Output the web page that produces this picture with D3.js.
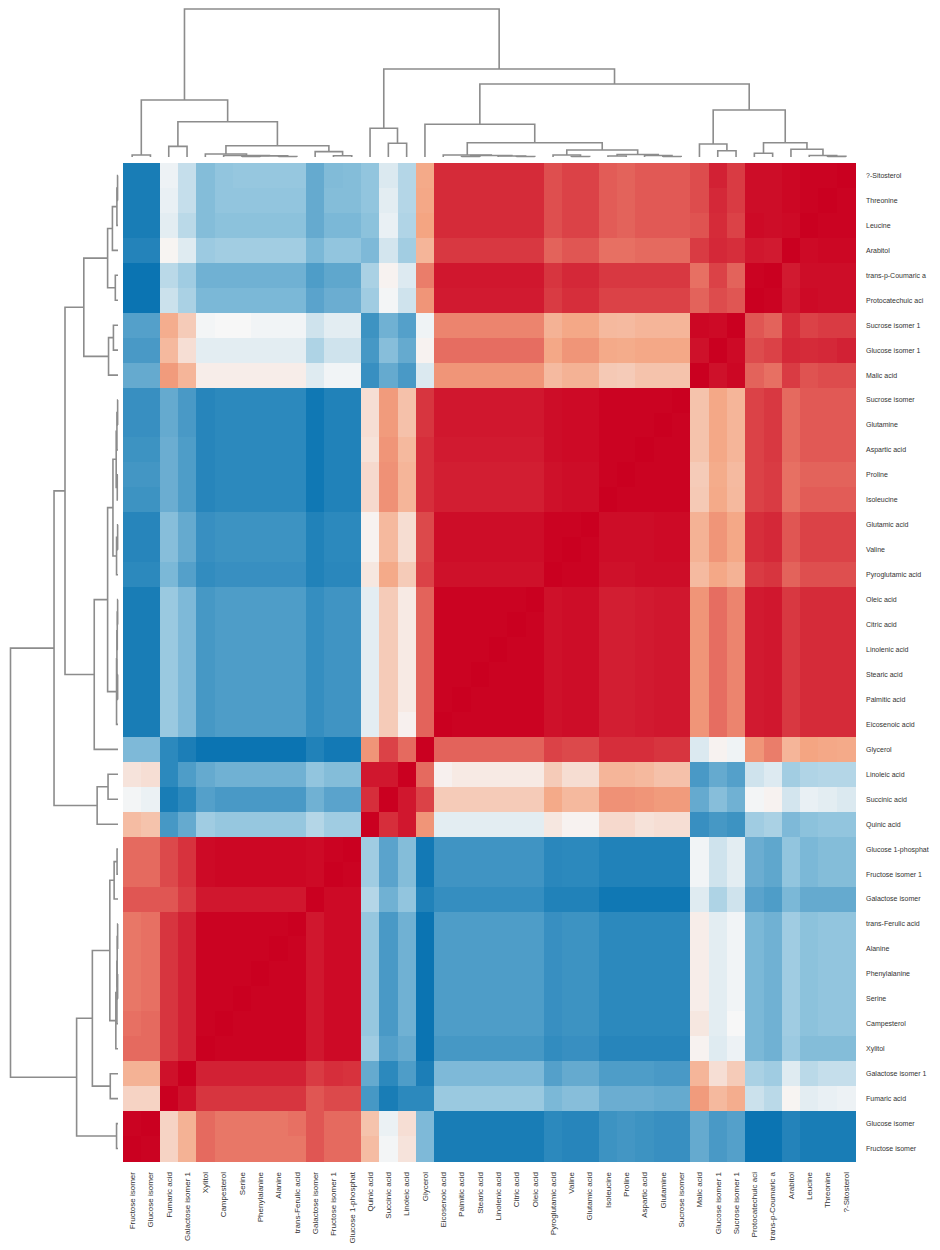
<!DOCTYPE html>
<html>
<head>
<meta charset="utf-8">
<script src="https://cdn.jsdelivr.net/npm/d3@7"></script>
<style>
  body { margin: 0; background: #fff; }
  text { font-family: "Liberation Sans", Arial, sans-serif; fill: #333; }
</style>
</head>
<body>
<svg id="chart" width="940" height="1250"></svg>
<script>
// Row labels (top to bottom)
const rowLabels = ["?-Sitosterol","Threonine","Leucine","Arabitol","trans-p-Coumaric a","Protocatechuic aci",
  "Sucrose isomer 1","Glucose isomer 1","Malic acid","Sucrose isomer","Glutamine","Aspartic acid","Proline",
  "Isoleucine","Glutamic acid","Valine","Pyroglutamic acid","Oleic acid","Citric acid","Linolenic acid",
  "Stearic acid","Palmitic acid","Eicosenoic acid","Glycerol","Linoleic acid","Succinic acid","Quinic acid",
  "Glucose 1-phosphat","Fructose isomer 1","Galactose isomer","trans-Ferulic acid","Alanine","Phenylalanine",
  "Serine","Campesterol","Xylitol","Galactose isomer 1","Fumaric acid","Glucose isomer","Fructose isomer"];

// Column labels (left to right)
const colLabels = ["Fructose isomer","Glucose isomer","Fumaric acid","Galactose isomer 1","Xylitol","Campesterol",
  "Serine","Phenylalanine","Alanine","trans-Ferulic acid","Galactose isomer","Fructose isomer 1","Glucose 1-phosphat",
  "Quinic acid","Succinic acid","Linoleic acid","Glycerol","Eicosenoic acid","Palmitic acid","Stearic acid",
  "Linolenic acid","Citric acid","Oleic acid","Pyroglutamic acid","Valine","Glutamic acid","Isoleucine","Proline",
  "Aspartic acid","Glutamine","Sucrose isomer","Malic acid","Glucose isomer 1","Sucrose isomer 1",
  "Protocatechuic aci","trans-p-Coumaric a","Arabitol","Leucine","Threonine","?-Sitosterol"];

// Correlation values, one row per row label, in column label order
const corr = [
[-0.93,-0.93,-0.05,-0.25,-0.55,-0.5,-0.48,-0.48,-0.48,-0.48,-0.66,-0.56,-0.55,-0.5,-0.14,-0.33,0.47,0.87,0.87,0.87,0.87,0.87,0.87,0.76,0.8,0.8,0.72,0.7,0.73,0.73,0.73,0.77,0.9,0.82,0.96,0.96,0.98,0.99,0.99,1],
[-0.93,-0.93,-0.07,-0.25,-0.55,-0.5,-0.5,-0.5,-0.5,-0.5,-0.66,-0.55,-0.55,-0.5,-0.1,-0.33,0.48,0.87,0.87,0.87,0.87,0.87,0.87,0.76,0.8,0.8,0.72,0.7,0.73,0.73,0.73,0.77,0.88,0.82,0.96,0.96,0.98,0.99,1,0.99],
[-0.93,-0.93,-0.1,-0.3,-0.55,-0.52,-0.52,-0.52,-0.52,-0.52,-0.66,-0.58,-0.58,-0.52,-0.07,-0.35,0.5,0.87,0.87,0.87,0.87,0.87,0.87,0.76,0.8,0.8,0.72,0.7,0.73,0.73,0.73,0.75,0.87,0.8,0.97,0.96,0.97,1,0.99,0.99],
[-0.89,-0.89,0.02,-0.12,-0.45,-0.42,-0.42,-0.42,-0.42,-0.42,-0.58,-0.5,-0.5,-0.57,-0.18,-0.42,0.4,0.83,0.83,0.83,0.83,0.83,0.83,0.7,0.74,0.74,0.66,0.66,0.68,0.68,0.68,0.82,0.88,0.86,0.93,0.92,1,0.97,0.98,0.98],
[-0.98,-0.98,-0.3,-0.43,-0.62,-0.62,-0.62,-0.62,-0.62,-0.62,-0.74,-0.68,-0.68,-0.38,0.03,-0.13,0.62,0.93,0.93,0.93,0.93,0.93,0.93,0.84,0.88,0.88,0.83,0.83,0.83,0.83,0.83,0.66,0.8,0.7,0.99,1,0.92,0.96,0.96,0.96],
[-0.98,-0.98,-0.22,-0.38,-0.58,-0.58,-0.58,-0.58,-0.58,-0.58,-0.7,-0.64,-0.64,-0.43,-0.02,-0.2,0.55,0.92,0.92,0.92,0.92,0.92,0.92,0.82,0.86,0.86,0.8,0.8,0.8,0.8,0.8,0.7,0.77,0.74,1,0.99,0.93,0.97,0.96,0.96],
[-0.72,-0.72,0.45,0.27,-0.02,0,0,-0.03,-0.03,-0.03,-0.2,-0.1,-0.1,-0.8,-0.62,-0.72,-0.04,0.6,0.6,0.6,0.6,0.6,0.6,0.42,0.48,0.48,0.38,0.37,0.4,0.4,0.4,0.98,0.97,1,0.74,0.7,0.86,0.8,0.82,0.82],
[-0.76,-0.76,0.38,0.15,-0.1,-0.1,-0.1,-0.1,-0.1,-0.1,-0.36,-0.2,-0.2,-0.77,-0.54,-0.66,0.03,0.67,0.67,0.67,0.67,0.67,0.67,0.48,0.55,0.55,0.47,0.46,0.48,0.48,0.48,0.95,1,0.97,0.77,0.8,0.88,0.87,0.88,0.9],
[-0.66,-0.66,0.53,0.4,0.06,0.06,0.06,0.06,0.06,0.06,-0.12,-0.03,-0.03,-0.82,-0.66,-0.76,-0.14,0.55,0.55,0.55,0.55,0.55,0.55,0.37,0.42,0.42,0.28,0.27,0.32,0.32,0.32,1,0.95,0.98,0.7,0.66,0.82,0.75,0.77,0.77],
[-0.82,-0.82,-0.66,-0.76,-0.88,-0.86,-0.86,-0.86,-0.86,-0.86,-0.96,-0.9,-0.9,0.15,0.53,0.33,0.84,0.93,0.93,0.93,0.93,0.93,0.93,0.96,0.97,0.97,0.99,0.99,0.99,0.99,1,0.32,0.48,0.4,0.8,0.83,0.68,0.73,0.73,0.73],
[-0.82,-0.82,-0.66,-0.76,-0.88,-0.86,-0.86,-0.86,-0.86,-0.86,-0.96,-0.9,-0.9,0.15,0.53,0.33,0.84,0.93,0.93,0.93,0.93,0.93,0.93,0.96,0.97,0.97,0.99,0.99,0.99,1,0.99,0.32,0.48,0.4,0.8,0.83,0.68,0.73,0.73,0.73],
[-0.8,-0.8,-0.64,-0.74,-0.88,-0.86,-0.86,-0.86,-0.86,-0.86,-0.96,-0.9,-0.9,0.13,0.55,0.38,0.86,0.92,0.92,0.92,0.92,0.92,0.92,0.96,0.97,0.97,0.99,0.99,1,0.99,0.99,0.32,0.48,0.4,0.8,0.83,0.68,0.73,0.73,0.73],
[-0.78,-0.78,-0.64,-0.74,-0.88,-0.86,-0.86,-0.86,-0.86,-0.86,-0.96,-0.9,-0.9,0.18,0.56,0.4,0.86,0.91,0.91,0.91,0.91,0.91,0.91,0.95,0.96,0.96,0.99,1,0.99,0.99,0.99,0.27,0.46,0.37,0.8,0.82,0.66,0.7,0.7,0.7],
[-0.8,-0.8,-0.64,-0.74,-0.88,-0.86,-0.86,-0.86,-0.86,-0.86,-0.96,-0.9,-0.9,0.18,0.56,0.4,0.86,0.91,0.91,0.91,0.91,0.91,0.91,0.95,0.96,0.96,1,0.99,0.99,0.99,0.99,0.28,0.47,0.38,0.8,0.82,0.66,0.72,0.72,0.72],
[-0.88,-0.88,-0.54,-0.66,-0.82,-0.8,-0.8,-0.8,-0.8,-0.8,-0.9,-0.86,-0.86,0.03,0.38,0.16,0.78,0.96,0.96,0.96,0.96,0.96,0.96,0.99,0.99,1,0.96,0.96,0.96,0.97,0.97,0.42,0.55,0.48,0.86,0.88,0.74,0.8,0.8,0.8],
[-0.88,-0.88,-0.54,-0.66,-0.82,-0.8,-0.8,-0.8,-0.8,-0.8,-0.9,-0.86,-0.86,0.03,0.38,0.16,0.78,0.96,0.96,0.96,0.96,0.96,0.96,0.99,1,0.99,0.96,0.96,0.96,0.97,0.97,0.42,0.55,0.48,0.86,0.88,0.74,0.8,0.8,0.8],
[-0.86,-0.86,-0.58,-0.72,-0.84,-0.82,-0.82,-0.82,-0.82,-0.82,-0.9,-0.87,-0.87,0.1,0.47,0.27,0.8,0.95,0.95,0.95,0.95,0.95,0.95,1,0.99,0.99,0.95,0.95,0.96,0.96,0.96,0.37,0.48,0.42,0.82,0.84,0.7,0.76,0.76,0.76],
[-0.93,-0.93,-0.46,-0.57,-0.77,-0.74,-0.74,-0.74,-0.74,-0.74,-0.83,-0.79,-0.79,-0.1,0.27,0.08,0.7,0.99,0.99,0.99,0.99,0.99,1,0.95,0.96,0.96,0.91,0.91,0.92,0.93,0.93,0.55,0.67,0.6,0.92,0.93,0.83,0.87,0.87,0.87],
[-0.93,-0.93,-0.46,-0.57,-0.77,-0.74,-0.74,-0.74,-0.74,-0.74,-0.83,-0.79,-0.79,-0.1,0.27,0.08,0.7,0.99,0.99,0.99,0.99,1,0.99,0.95,0.96,0.96,0.91,0.91,0.92,0.93,0.93,0.55,0.67,0.6,0.92,0.93,0.83,0.87,0.87,0.87],
[-0.93,-0.93,-0.46,-0.57,-0.77,-0.74,-0.74,-0.74,-0.74,-0.74,-0.83,-0.79,-0.79,-0.1,0.27,0.08,0.7,0.99,0.99,0.99,1,0.99,0.99,0.95,0.96,0.96,0.91,0.91,0.92,0.93,0.93,0.55,0.67,0.6,0.92,0.93,0.83,0.87,0.87,0.87],
[-0.93,-0.93,-0.46,-0.57,-0.77,-0.74,-0.74,-0.74,-0.74,-0.74,-0.83,-0.79,-0.79,-0.1,0.27,0.08,0.7,0.99,0.99,1,0.99,0.99,0.99,0.95,0.96,0.96,0.91,0.91,0.92,0.93,0.93,0.55,0.67,0.6,0.92,0.93,0.83,0.87,0.87,0.87],
[-0.93,-0.93,-0.46,-0.57,-0.77,-0.74,-0.74,-0.74,-0.74,-0.74,-0.83,-0.79,-0.79,-0.1,0.27,0.08,0.7,0.99,1,0.99,0.99,0.99,0.99,0.95,0.96,0.96,0.91,0.91,0.92,0.93,0.93,0.55,0.67,0.6,0.92,0.93,0.83,0.87,0.87,0.87],
[-0.93,-0.93,-0.46,-0.57,-0.77,-0.74,-0.74,-0.74,-0.74,-0.74,-0.83,-0.79,-0.79,-0.1,0.27,0.04,0.7,1,0.99,0.99,0.99,0.99,0.99,0.95,0.96,0.96,0.91,0.91,0.92,0.93,0.93,0.55,0.67,0.6,0.92,0.93,0.83,0.87,0.87,0.87],
[-0.57,-0.57,-0.86,-0.92,-0.98,-0.98,-0.98,-0.98,-0.98,-0.98,-0.9,-0.95,-0.95,0.55,0.8,0.68,1,0.7,0.7,0.7,0.7,0.7,0.7,0.8,0.78,0.78,0.86,0.86,0.86,0.84,0.84,-0.14,0.03,-0.04,0.55,0.62,0.4,0.5,0.48,0.47],
[0.12,0.15,-0.86,-0.74,-0.66,-0.62,-0.62,-0.62,-0.62,-0.62,-0.5,-0.55,-0.55,0.93,0.93,1,0.68,0.04,0.08,0.08,0.08,0.08,0.08,0.27,0.16,0.16,0.4,0.4,0.38,0.33,0.33,-0.76,-0.66,-0.72,-0.2,-0.13,-0.42,-0.35,-0.33,-0.33],
[-0.02,-0.06,-0.93,-0.86,-0.72,-0.76,-0.76,-0.76,-0.76,-0.76,-0.62,-0.7,-0.7,0.86,1,0.93,0.8,0.27,0.27,0.27,0.27,0.27,0.27,0.47,0.38,0.38,0.56,0.56,0.55,0.53,0.53,-0.66,-0.54,-0.62,-0.02,0.03,-0.18,-0.07,-0.1,-0.14],
[0.36,0.32,-0.77,-0.66,-0.43,-0.48,-0.48,-0.48,-0.48,-0.48,-0.33,-0.43,-0.43,1,0.86,0.93,0.55,-0.1,-0.1,-0.1,-0.1,-0.1,-0.1,0.1,0.03,0.03,0.18,0.18,0.13,0.15,0.15,-0.82,-0.77,-0.8,-0.43,-0.38,-0.57,-0.52,-0.5,-0.5],
[0.68,0.68,0.78,0.85,0.97,0.98,0.98,0.98,0.98,0.98,0.97,0.99,1,-0.43,-0.7,-0.55,-0.95,-0.79,-0.79,-0.79,-0.79,-0.79,-0.79,-0.87,-0.86,-0.86,-0.9,-0.9,-0.9,-0.9,-0.9,-0.03,-0.2,-0.1,-0.64,-0.68,-0.5,-0.58,-0.55,-0.55],
[0.68,0.68,0.78,0.85,0.97,0.98,0.98,0.98,0.98,0.98,0.97,1,0.99,-0.43,-0.7,-0.55,-0.95,-0.79,-0.79,-0.79,-0.79,-0.79,-0.79,-0.87,-0.86,-0.86,-0.9,-0.9,-0.9,-0.9,-0.9,-0.03,-0.2,-0.1,-0.64,-0.68,-0.5,-0.58,-0.55,-0.55],
[0.74,0.74,0.74,0.82,0.93,0.93,0.93,0.93,0.93,0.93,1,0.97,0.97,-0.33,-0.62,-0.5,-0.9,-0.83,-0.83,-0.83,-0.83,-0.83,-0.83,-0.9,-0.9,-0.9,-0.96,-0.96,-0.96,-0.96,-0.96,-0.12,-0.36,-0.2,-0.7,-0.74,-0.58,-0.66,-0.66,-0.66],
[0.64,0.66,0.84,0.9,0.99,0.99,0.99,0.99,0.99,1,0.93,0.97,0.97,-0.48,-0.76,-0.62,-0.98,-0.74,-0.74,-0.74,-0.74,-0.74,-0.74,-0.82,-0.8,-0.8,-0.86,-0.86,-0.86,-0.86,-0.86,0.06,-0.1,-0.03,-0.58,-0.62,-0.43,-0.52,-0.5,-0.5],
[0.64,0.66,0.84,0.9,0.99,0.99,0.99,0.99,1,0.99,0.93,0.97,0.97,-0.48,-0.76,-0.62,-0.98,-0.74,-0.74,-0.74,-0.74,-0.74,-0.74,-0.82,-0.8,-0.8,-0.86,-0.86,-0.86,-0.86,-0.86,0.06,-0.1,-0.03,-0.58,-0.62,-0.43,-0.52,-0.5,-0.5],
[0.64,0.66,0.84,0.9,0.99,0.99,0.99,1,0.99,0.99,0.93,0.97,0.97,-0.48,-0.76,-0.62,-0.98,-0.74,-0.74,-0.74,-0.74,-0.74,-0.74,-0.82,-0.8,-0.8,-0.86,-0.86,-0.86,-0.86,-0.86,0.06,-0.1,-0.03,-0.58,-0.62,-0.43,-0.52,-0.5,-0.5],
[0.64,0.66,0.84,0.9,0.99,0.99,1,0.99,0.99,0.99,0.93,0.97,0.97,-0.48,-0.76,-0.62,-0.98,-0.74,-0.74,-0.74,-0.74,-0.74,-0.74,-0.82,-0.8,-0.8,-0.86,-0.86,-0.86,-0.86,-0.86,0.06,-0.1,-0.03,-0.58,-0.62,-0.43,-0.52,-0.5,-0.5],
[0.66,0.68,0.84,0.9,0.99,1,0.99,0.99,0.99,0.99,0.93,0.97,0.97,-0.48,-0.76,-0.62,-0.98,-0.74,-0.74,-0.74,-0.74,-0.74,-0.74,-0.82,-0.8,-0.8,-0.86,-0.86,-0.86,-0.86,-0.86,0.1,-0.1,0,-0.58,-0.62,-0.43,-0.52,-0.5,-0.5],
[0.68,0.68,0.84,0.9,1,0.99,0.99,0.99,0.99,0.99,0.93,0.97,0.97,-0.43,-0.72,-0.66,-0.98,-0.77,-0.77,-0.77,-0.77,-0.77,-0.77,-0.84,-0.82,-0.82,-0.88,-0.88,-0.88,-0.88,-0.88,0.03,-0.12,-0.05,-0.58,-0.62,-0.45,-0.55,-0.55,-0.55],
[0.42,0.42,0.95,1,0.9,0.9,0.9,0.9,0.9,0.9,0.82,0.86,0.85,-0.66,-0.86,-0.74,-0.92,-0.57,-0.57,-0.57,-0.57,-0.57,-0.57,-0.72,-0.66,-0.66,-0.74,-0.74,-0.74,-0.76,-0.76,0.4,0.15,0.27,-0.38,-0.43,-0.12,-0.3,-0.25,-0.25],
[0.22,0.22,1,0.95,0.84,0.84,0.84,0.84,0.84,0.84,0.74,0.78,0.78,-0.77,-0.93,-0.86,-0.86,-0.46,-0.46,-0.46,-0.46,-0.46,-0.46,-0.58,-0.54,-0.54,-0.64,-0.64,-0.64,-0.66,-0.66,0.53,0.38,0.45,-0.22,-0.3,0.02,-0.1,-0.07,-0.05],
[0.99,1,0.22,0.42,0.68,0.64,0.64,0.64,0.64,0.66,0.74,0.68,0.68,0.32,-0.06,0.15,-0.57,-0.93,-0.93,-0.93,-0.93,-0.93,-0.93,-0.86,-0.88,-0.88,-0.8,-0.78,-0.8,-0.82,-0.82,-0.66,-0.76,-0.72,-0.98,-0.98,-0.89,-0.93,-0.93,-0.93],
[1,0.99,0.22,0.42,0.68,0.64,0.64,0.64,0.64,0.64,0.74,0.68,0.68,0.36,-0.02,0.12,-0.57,-0.93,-0.93,-0.93,-0.93,-0.93,-0.93,-0.86,-0.88,-0.88,-0.8,-0.78,-0.8,-0.82,-0.82,-0.66,-0.76,-0.72,-0.98,-0.98,-0.89,-0.93,-0.93,-0.93]
];

// Cluster tree: [height, left, right], leaves are labels (left-to-right = column order)
const tree = [1.0,
  [0.385,
    [0.0135, "Fructose isomer", "Glucose isomer"],
    [0.2385,
      [0.072, "Fumaric acid", "Galactose isomer 1"],
      [0.076,
        [0.02, "Xylitol", [0.01, "Campesterol", [0.0074, [0.0034, "Serine", "Phenylalanine"], [0.0034, "Alanine", "trans-Ferulic acid"]]]],
        [0.036, "Galactose isomer", [0.0088, "Fructose isomer 1", "Glucose 1-phosphat"]]]]],
  [0.595,
    [0.194, "Quinic acid", [0.0926, "Succinic acid", "Linoleic acid"]],
    [0.493,
      [0.221, "Glycerol",
        [0.0966,
          [0.0135, "Eicosenoic acid", [0.01, [0.0034, "Palmitic acid", "Stearic acid"], [0.0068, "Linolenic acid", [0.0034, "Citric acid", "Oleic acid"]]]],
          [0.047, [0.0135, "Pyroglutamic acid", [0.0034, "Valine", "Glutamic acid"]],
                  [0.0169, [0.0068, "Isoleucine", "Proline"], [0.01, "Aspartic acid", [0.0034, "Glutamine", "Sucrose isomer"]]]]]],
      [0.318,
        [0.088, "Malic acid", [0.0426, "Glucose isomer 1", "Sucrose isomer 1"]],
        [0.0966, [0.025, "Protocatechuic aci", "trans-p-Coumaric a"],
                 [0.052, "Arabitol", [0.0101, "Leucine", [0.004, "Threonine", "?-Sitosterol"]]]]]]]];

const svg = d3.select("#chart");

const x = d3.scaleBand().domain(colLabels).range([123, 855]);
const y = d3.scaleBand().domain(rowLabels).range([163, 1161]);
const color = d3.scaleLinear()
    .domain([-1, -0.5, 0, 0.5, 1])
    .range(["#0571b0", "#92c5de", "#f7f7f7", "#f4a582", "#ca0020"])
    .clamp(true);

// heatmap cells
const cells = [];
rowLabels.forEach((r, i) => colLabels.forEach((c, j) => cells.push({ r, c, v: corr[i][j] })));

svg.append("g")
    .attr("shape-rendering", "crispEdges")
    .selectAll("rect")
    .data(cells)
    .enter().append("rect")
    .attr("x", d => x(d.c))
    .attr("y", d => y(d.r))
    .attr("width", x.bandwidth() + 0.5)
    .attr("height", y.bandwidth() + 0.5)
    .attr("fill", d => color(d.v));

// dendrograms
const root = d3.hierarchy(tree, d => Array.isArray(d) ? d.slice(1) : null);
const heightOf = n => Array.isArray(n.data) ? n.data[0] : 0;

function drawDendro(posOf, hScale, vertical) {
    root.eachAfter(n => {
        n.p = n.children ? d3.mean(n.children, c => c.p) : posOf(n.data);
    });
    const g = svg.append("g")
        .attr("fill", "none")
        .attr("stroke", "#8c8c8c")
        .attr("stroke-width", 1.6);
    root.descendants().filter(n => n.children).forEach(n => {
        const [a, b] = n.children;
        const h = hScale(heightOf(n));
        let pts = [[a.p, hScale(heightOf(a))], [a.p, h], [b.p, h], [b.p, hScale(heightOf(b))]];
        if (!vertical) pts = pts.map(([p, q]) => [q, p]);
        g.append("path").attr("d", d3.line()(pts));
    });
}

drawDendro(name => x(name) + x.bandwidth() / 2, d3.scaleLinear().domain([0, 1]).range([157, 9]), true);
drawDendro(name => y(name) + y.bandwidth() / 2, d3.scaleLinear().domain([0, 1]).range([118, 10.5]), false);

// row labels (right)
svg.append("g")
    .selectAll("text")
    .data(rowLabels)
    .enter().append("text")
    .attr("x", 866)
    .attr("y", d => y(d) + y.bandwidth() / 2)
    .attr("dy", "0.35em")
    .attr("font-size", 7)
    .text(d => d);

// column labels (bottom)
svg.append("g")
    .selectAll("text")
    .data(colLabels)
    .enter().append("text")
    .attr("transform", d => `translate(${x(d) + x.bandwidth() / 2},1172) rotate(-90)`)
    .attr("dy", "0.35em")
    .attr("text-anchor", "end")
    .attr("font-size", 8)
    .text(d => d);
</script>
</body>
</html>
